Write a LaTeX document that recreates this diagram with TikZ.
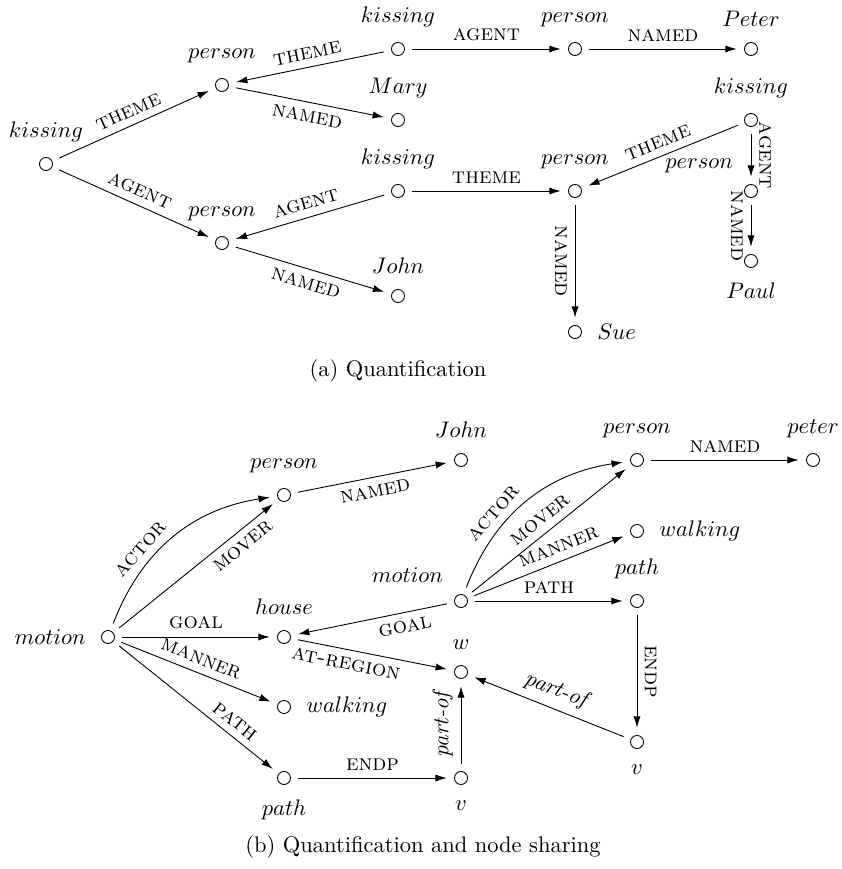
\documentclass[tikz,border=0pt]{standalone}
\usetikzlibrary{arrows.meta}
\begin{document}
\begin{tikzpicture}[x=0.4444pt, y=0.4444pt, -{Latex[length=5pt,width=3.2pt]},
	cnode/.style={circle, draw, inner sep=0pt, minimum size=5.8pt, outer sep=3.5pt},
	role/.style={font=\scshape, sloped},
	partof/.style={font=\itshape, sloped}]
	\useasboundingbox (0,0) rectangle (842,869);
	\node[cnode, label={above:$kissing$}] (k0) at (46,705) {};
	\node[cnode, label={above:$person$}] (p1) at (222,784) {};
	\node[cnode, label={above:$person$}] (p2) at (222,626) {};
	\node[cnode, label={above:$kissing$}] (k1) at (398,820) {};
	\node[cnode, label={above:$Mary$}] (mary) at (398,749) {};
	\node[cnode, label={above:$kissing$}] (k2) at (398,678) {};
	\node[cnode, label={above:$John$}] (john) at (398,573) {};
	\node[cnode, label={above:$person$}] (p3) at (575,820) {};
	\node[cnode, label={above:$Peter$}] (peter) at (751,820) {};
	\node[cnode, label={above:$kissing$}] (k3) at (751,749) {};
	\node[cnode, label={above:$person$}] (p4) at (575,678) {};
	\node[cnode, label={above left:$person$}] (p5) at (751,678) {};
	\node[cnode, label={below:$Paul$}] (paul) at (751,608) {};
	\node[cnode, label={right:$Sue$}] (sue) at (575,537) {};
	\draw (k0) -- node[role, above] {theme} (p1);
	\draw (k0) -- node[role, above] {agent} (p2);
	\draw (k1) -- node[role, above] {theme} (p1);
	\draw (p1) -- node[role, below] {named} (mary);
	\draw (k2) -- node[role, above] {agent} (p2);
	\draw (p2) -- node[role, below] {named} (john);
	\draw (k1) -- node[role, above] {agent} (p3);
	\draw (p3) -- node[role, above] {named} (peter);
	\draw (k2) -- node[role, above] {theme} (p4);
	\draw (k3) -- node[role, above] {theme} (p4);
	\draw (k3) -- node[role, above, allow upside down] {agent} (p5);
	\draw (p5) -- node[role, below, allow upside down] {named} (paul);
	\draw (p4) -- node[role, below, allow upside down] {named} (sue);
	\node (capa) at (398,498) {(a) Quantification};

	\node[cnode, label={left:$motion$}] (m0) at (108,232) {};
	\node[cnode, label={above:$person$}] (bp1) at (284,374) {};
	\node[cnode, label={above:$house$}] (house) at (284,232) {};
	\node[cnode, label={right:$walking$}] (bw1) at (284,162) {};
	\node[cnode, label={below:$path$}] (bpath1) at (284,91) {};
	\node[cnode, label={above:$John$}] (bjohn) at (461,409) {};
	\node[cnode, label={above:$person$}] (bp2) at (637,409) {};
	\node[cnode, label={above:$peter$}] (bpeter) at (813,409) {};
	\node[cnode, label={right:$walking$}] (bw2) at (637,338) {};
	\node[cnode, label={above left:$motion$}] (m1) at (461,268) {};
	\node[cnode, label={above:$path$}] (bpath2) at (637,268) {};
	\node[cnode, label={above:$w$}] (w) at (461,197) {};
	\node[cnode, label={below:$v$}] (v2) at (637,127) {};
	\node[cnode, label={below:$v$}] (v1) at (461,91) {};
	\draw (m0) to[bend left=30] node[role, above, pos=0.35] {actor} (bp1);
	\draw (m0) -- node[role, below, pos=0.75] {mover} (bp1);
	\draw (m0) -- node[role, above] {goal} (house);
	\draw (m0) -- node[role, above] {manner} (bw1);
	\draw (m0) -- node[role, above, pos=0.7] {path} (bpath1);
	\draw (bp1) -- node[role, below] {named} (bjohn);
	\draw (bpath1) -- node[role, above] {endp} (v1);
	\draw (house) -- node[role, below, pos=0.34] {at-region} (w);
	\draw (m1) -- node[role, below, pos=0.3] {goal} (house);
	\draw (v1) -- node[partof, above, allow upside down] {part-of} (w);
	\draw (m1) to[bend left=30] node[role, above, pos=0.35] {actor} (bp2);
	\draw (m1) -- node[role, above] {mover} (bp2);
	\draw (m1) -- node[role, above, pos=0.6] {manner} (bw2);
	\draw (m1) -- node[role, above] {path} (bpath2);
	\draw (bp2) -- node[role, above] {named} (bpeter);
	\draw (bpath2) -- node[role, above, allow upside down] {endp} (v2);
	\draw (v2) -- node[partof, above] {part-of} (w);
	\node (capb) at (423,22) {(b) Quantification and node sharing};
\end{tikzpicture}
\end{document}
